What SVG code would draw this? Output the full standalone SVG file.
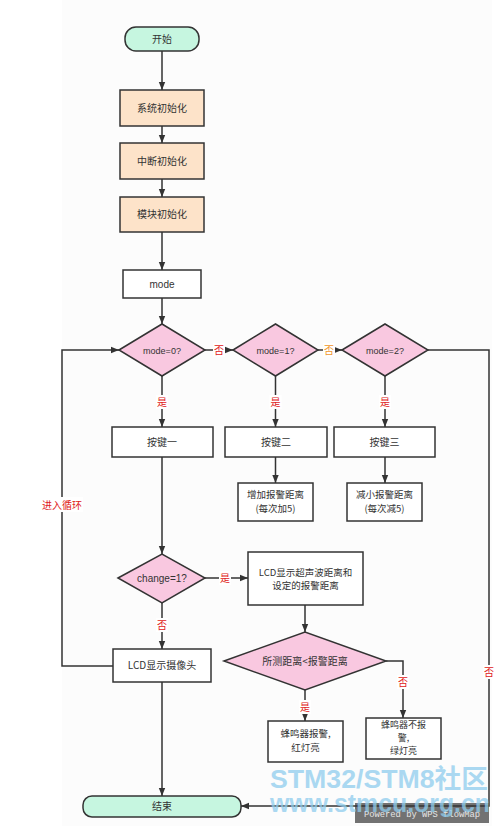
<svg xmlns="http://www.w3.org/2000/svg" width="501" height="826" viewBox="0 0 501 826">
<style>
.box{fill:#fff;stroke:#333;stroke-width:1.5}
.init{fill:#fde3c9;stroke:#333;stroke-width:1.5}
.term{fill:#c6f6e0;stroke:#333;stroke-width:1.5}
.dia{fill:#f9c8e0;stroke:#333;stroke-width:1.5}
.t{font-family:"Noto Sans CJK SC","Liberation Sans",sans-serif;font-size:10px;fill:#333;text-anchor:middle}
.s{font-size:9.5px}
.xs{font-size:9px}
.e{font-family:"Liberation Sans","Noto Sans CJK SC",sans-serif;font-size:10px;fill:#333;text-anchor:middle}
.lbl{font-family:"Noto Sans CJK SC",sans-serif;font-size:10px;fill:#e02020;text-anchor:middle}
.ln{fill:none;stroke:#333;stroke-width:1.5}
.bg{fill:#fff}
</style>
<defs>
<marker id="arw" viewBox="0 0 10 10" refX="10" refY="5" markerWidth="8" markerHeight="8" orient="auto" markerUnits="userSpaceOnUse">
<path d="M0,1 L10,5 L0,9 z" fill="#333"/>
</marker>
</defs>
<rect width="501" height="826" fill="#fff"/>
<rect x="62" y="0" width="430" height="826" fill="#fcfcfc"/>

<g id="powered">
<rect x="355" y="803" width="134" height="20" fill="#727272"/>
<text x="422" y="817" font-family="Liberation Mono,monospace" font-size="8.8" fill="#e6e6e6" text-anchor="middle">Powered by WPS flowMap</text>
</g>

<g id="connectors">
<line class="ln" x1="162" y1="51" x2="162" y2="90" marker-end="url(#arw)"/>
<line class="ln" x1="162" y1="126" x2="162" y2="143" marker-end="url(#arw)"/>
<line class="ln" x1="162" y1="179" x2="162" y2="197" marker-end="url(#arw)"/>
<line class="ln" x1="162" y1="232" x2="162" y2="270" marker-end="url(#arw)"/>
<line class="ln" x1="162" y1="298" x2="162" y2="324" marker-end="url(#arw)"/>
<line class="ln" x1="205" y1="350" x2="233" y2="350" marker-end="url(#arw)"/>
<line class="ln" x1="318" y1="350" x2="342" y2="350" marker-end="url(#arw)"/>
<polyline class="ln" points="428,350 489,350 489,806 241,806" marker-end="url(#arw)"/>
<line class="ln" x1="162" y1="376" x2="162" y2="427" marker-end="url(#arw)"/>
<line class="ln" x1="275.5" y1="376" x2="275.5" y2="427" marker-end="url(#arw)"/>
<line class="ln" x1="385" y1="376" x2="385" y2="427" marker-end="url(#arw)"/>
<line class="ln" x1="275.5" y1="457" x2="275.5" y2="483" marker-end="url(#arw)"/>
<line class="ln" x1="385" y1="457" x2="385" y2="483" marker-end="url(#arw)"/>
<line class="ln" x1="162" y1="457" x2="162" y2="554" marker-end="url(#arw)"/>
<line class="ln" x1="205" y1="578" x2="248" y2="578" marker-end="url(#arw)"/>
<line class="ln" x1="162" y1="603" x2="162" y2="649" marker-end="url(#arw)"/>
<polyline class="ln" points="113,666 62,666 62,350 119,350" marker-end="url(#arw)"/>
<line class="ln" x1="305" y1="605" x2="305" y2="632" marker-end="url(#arw)"/>
<line class="ln" x1="305" y1="690" x2="305" y2="721" marker-end="url(#arw)"/>
<polyline class="ln" points="386,661 403,661 403,718" marker-end="url(#arw)"/>
<line class="ln" x1="162" y1="682" x2="162" y2="796" marker-end="url(#arw)"/>
<rect class="bg" x="213" y="343" width="12" height="14"/>
<text class="lbl" x="219" y="354">否</text>
<rect class="bg" x="323" y="343" width="12" height="14"/>
<text class="lbl" x="329" y="354" style="fill:#f0962a">否</text>
<rect class="bg" x="483" y="665" width="12" height="14"/>
<text class="lbl" x="489" y="676">否</text>
<rect class="bg" x="156" y="395" width="12" height="14"/>
<text class="lbl" x="162" y="406">是</text>
<rect class="bg" x="269.5" y="395" width="12" height="14"/>
<text class="lbl" x="275.5" y="406">是</text>
<rect class="bg" x="379" y="395" width="12" height="14"/>
<text class="lbl" x="385" y="406">是</text>
<rect class="bg" x="219" y="571" width="12" height="14"/>
<text class="lbl" x="225" y="582">是</text>
<rect class="bg" x="156" y="618" width="12" height="14"/>
<text class="lbl" x="162" y="629">否</text>
<rect class="bg" x="41" y="497" width="42" height="15"/>
<text class="lbl" x="62" y="509">进入循环</text>
<rect class="bg" x="299" y="700" width="12" height="14"/>
<text class="lbl" x="305" y="711">是</text>
<rect class="bg" x="397" y="675" width="12" height="14"/>
<text class="lbl" x="403" y="686">否</text>
</g>

<g id="start"><rect class="term" x="125" y="27" width="74" height="24" rx="11"/><text class="t" x="162" y="43">开始</text></g>
<g id="sysinit"><rect class="init" x="120" y="90" width="84" height="36"/><text class="t" x="162" y="112">系统初始化</text></g>
<g id="intinit"><rect class="init" x="120" y="143" width="84" height="36"/><text class="t" x="162" y="165">中断初始化</text></g>
<g id="modinit"><rect class="init" x="120" y="197" width="84" height="35"/><text class="t" x="162" y="218">模块初始化</text></g>
<g id="mode"><rect class="box" x="123" y="270" width="78" height="28"/><text class="e" x="162" y="288">mode</text></g>
<g id="mode0"><polygon class="dia" points="119,350 162,324 205,350 162,376"/><text class="e" x="162" y="354" style="font-size:9px">mode=0?</text></g>
<g id="mode1"><polygon class="dia" points="233,350 275.5,324 318,350 275.5,376"/><text class="e" x="275.5" y="354" style="font-size:9px">mode=1?</text></g>
<g id="mode2"><polygon class="dia" points="342,350 385,324 428,350 385,376"/><text class="e" x="385" y="354" style="font-size:9px">mode=2?</text></g>
<g id="key1"><rect class="box" x="112" y="427" width="101" height="30"/><text class="t" x="162" y="446">按键一</text></g>
<g id="key2"><rect class="box" x="225" y="427" width="102" height="30"/><text class="t" x="276" y="446">按键二</text></g>
<g id="key3"><rect class="box" x="334" y="427" width="101" height="30"/><text class="t" x="384.5" y="446">按键三</text></g>
<g id="inc"><rect class="box" x="238" y="483" width="75" height="38"/><text class="t s" x="275.5" y="498">增加报警距离</text><text class="t s" x="275.5" y="512">(每次加5)</text></g>
<g id="dec"><rect class="box" x="347" y="483" width="75" height="38"/><text class="t s" x="384.5" y="498">减小报警距离</text><text class="t s" x="384.5" y="512">(每次减5)</text></g>
<g id="change"><polygon class="dia" points="118,578 162,554 205,578 162,603"/><text class="e" x="162" y="582">change=1?</text></g>
<g id="lcdus"><rect class="box" x="248" y="552" width="115" height="53"/><text class="t s" x="305.5" y="576">LCD显示超声波距离和</text><text class="t s" x="305.5" y="589">设定的报警距离</text></g>
<g id="lcdcam"><rect class="box" x="113" y="649" width="98" height="33"/><text class="t" x="162" y="669">LCD显示摄像头</text></g>
<g id="cmp"><polygon class="dia" points="224,661 305,632 386,661 305,690"/><text class="t" x="305" y="665">所测距离&lt;报警距离</text></g>
<g id="alarm"><rect class="box" x="268" y="721" width="75" height="41"/><text class="t s" x="305.5" y="737">蜂鸣器报警,</text><text class="t s" x="305.5" y="751">红灯亮</text></g>
<g id="noalarm"><rect class="box" x="366" y="718" width="75" height="41"/><text class="t xs" x="403.5" y="728">蜂鸣器不报</text><text class="t xs" x="403.5" y="741">警,</text><text class="t xs" x="403.5" y="754">绿灯亮</text></g>
<g id="end"><rect class="term" x="83" y="796" width="158" height="21" rx="9"/><text class="t" x="162" y="810">结束</text></g>

<g id="watermark" opacity="0.75" font-family="Liberation Sans,Noto Sans CJK SC,sans-serif" font-weight="bold" fill="#8fcdee">
<text x="270" y="788" font-size="26" textLength="218" lengthAdjust="spacingAndGlyphs">STM32/STM8社区</text>
<text x="270" y="812" font-size="26" textLength="220" lengthAdjust="spacingAndGlyphs">www.stmcu.org.cn</text>
</g>
</svg>
